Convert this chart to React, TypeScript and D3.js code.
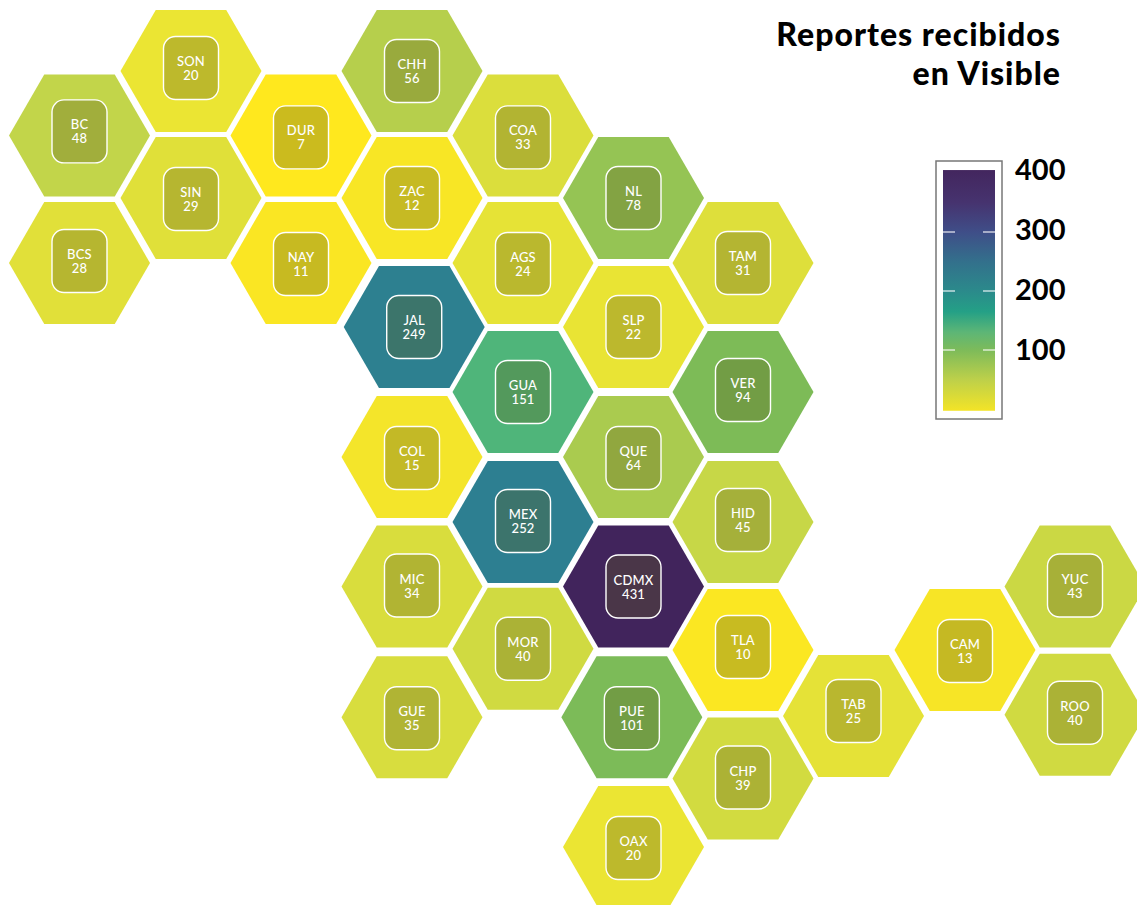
import React from "react";
import * as d3 from "d3";

const states = ["BC","BCS","SON","SIN","DUR","NAY","CHH","ZAC","JAL","COL","MIC","GUE","COA","AGS","GUA","MEX","MOR","NL","SLP","QUE","CDMX","PUE","OAX","TAM","VER","HID","TLA","CHP","TAB","CAM","YUC","ROO"];
const reports = [48,28,20,29,7,11,56,12,249,15,34,35,33,24,151,252,40,78,22,64,431,101,20,31,94,45,10,39,25,13,43,40];
const gridCols = [0,0,1,1,2,2,3,3,3.02,3,3,3,4,4,4,4,4,5,5,5,5,4.985,5,6,6,6,6,6,7,8,9,9];
const gridRows = [1,3,0,2,1,3,0,2,4,6,8,10.02,1,3,5,7,8.98,2,4,6,8,10.02,12,3,5,7,9,11,10,9,8,9.98];
const labelShifts = [-4,-2,-3,1,2,1,0,0,0,1,-1,1,2,1,0,-1,0,0,0,1,0,1,1,0,-2,-2,-3,-1,-5,1,-1,-2];
const colKnots = [0,1,2,3,4,5,6,7,8,9];
const colPixels = [79.5,191,301,412,523,633.5,743,853.5,965,1075];
const rowKnots = [0,1,2,3,4,5,6,7,8,9,10,11,12];
const rowPixels = [71,135.4,198,263,327,392,457,522,586.5,650,716,778.5,847];

const colorValues = [7,13,20,30,40,48,56,78,94,101,151,249,252,431];
const colorStops = ["#ffe81e","#f7e526","#ebe533","#dfdf3a","#d0da41","#c2d54a","#b6cf4c","#95c454","#7dbb57","#7cbb58","#4fb57a","#2d8090","#2d7f91","#41245c"];

const legendValues = [-3,50,100,130,165,200,250,300,350,405];
const legendColors = ["#f3e427","#bdd04a","#7dbb5a","#5db676","#24a086","#2b8a8b","#33708c","#3f4e88","#46336f","#43265e"];
const legendTicks = [100,200,300,400];
const titleLines = ["Reportes recibidos","en Visible"];

const R = 70.5;
const H = 61;
const FONT = "Lato, 'Open Sans', sans-serif";

export default function App() {
  const x = d3.scaleLinear().domain(colKnots).range(colPixels);
  const y = d3.scaleLinear().domain(rowKnots).range(rowPixels);
  const color = d3.scaleLinear<string>().domain(colorValues).range(colorStops).interpolate(d3.interpolateRgb);
  const ly = d3.scaleLinear().domain([100, 400]).range([350, 173]);
  const labelY = d3.scaleLinear().domain([100, 400]).range([359.5, 180]);
  const hex = d3.line()([[-R,0],[-R/2,-H],[R/2,-H],[R,0],[R/2,H],[-R/2,H]]) + "Z";
  return (
    <svg width={1137} height={905} style={{position:"absolute",left:0,top:0,display:"block",background:"#fff"}} fontFamily={FONT}>
      <defs>
        <linearGradient id="lg" x1="0" x2="0" y1="1" y2="0">
          {legendValues.map((v,i)=>(
            <stop key={v} offset={(v-legendValues[0])/(legendValues[legendValues.length-1]-legendValues[0])} stopColor={legendColors[i]} />
          ))}
        </linearGradient>
      </defs>
      {states.map((s,i)=>{
        const cx = x(gridCols[i]); const cy = y(gridRows[i]);
        return (
          <g key={s} transform={`translate(${cx},${cy})`}>
            <path d={hex} fill={color(reports[i])} />
            <g transform={`translate(0,${labelShifts[i]})`}>
              <rect x={-27.5} y={-31.5} width={55} height={63} rx={12} fill="#5e5c20" fillOpacity={0.32} stroke="#fff" strokeWidth={1.4} />
              <text textAnchor="middle" y={-2} fill="#fff" fontSize={13} fontWeight={500} letterSpacing={0.2}>{s}</text>
              <text textAnchor="middle" y={12} fill="#fff" fontSize={13} fontWeight={500} letterSpacing={0.2}>{reports[i]}</text>
            </g>
          </g>
        );
      })}
      {titleLines.map((t,i)=>(
        <text key={t} x={1061} y={45.5+i*39} textAnchor="end" fontSize={32} fontWeight={900} letterSpacing={1} fill="#000">{t}</text>
      ))}
      <rect x={936} y={161} width={66} height={258} fill="#fff" stroke="#777" strokeWidth={1.5} />
      <rect x={943} y={ly(405)} width={52} height={ly(-3)-ly(405)} fill="url(#lg)" />
      {legendTicks.map(t=>(
        <g key={t}>
          {t<400 && <line x1={943} x2={955} y1={ly(t)} y2={ly(t)} stroke="#fff" strokeOpacity={0.9} strokeWidth={1.2} />}
          {t<400 && <line x1={983} x2={995} y1={ly(t)} y2={ly(t)} stroke="#fff" strokeOpacity={0.9} strokeWidth={1.2} />}
          <text x={1015} y={labelY(t)} fontSize={29} fontWeight={700} fill="#000">{t}</text>
        </g>
      ))}
    </svg>
  );
}
